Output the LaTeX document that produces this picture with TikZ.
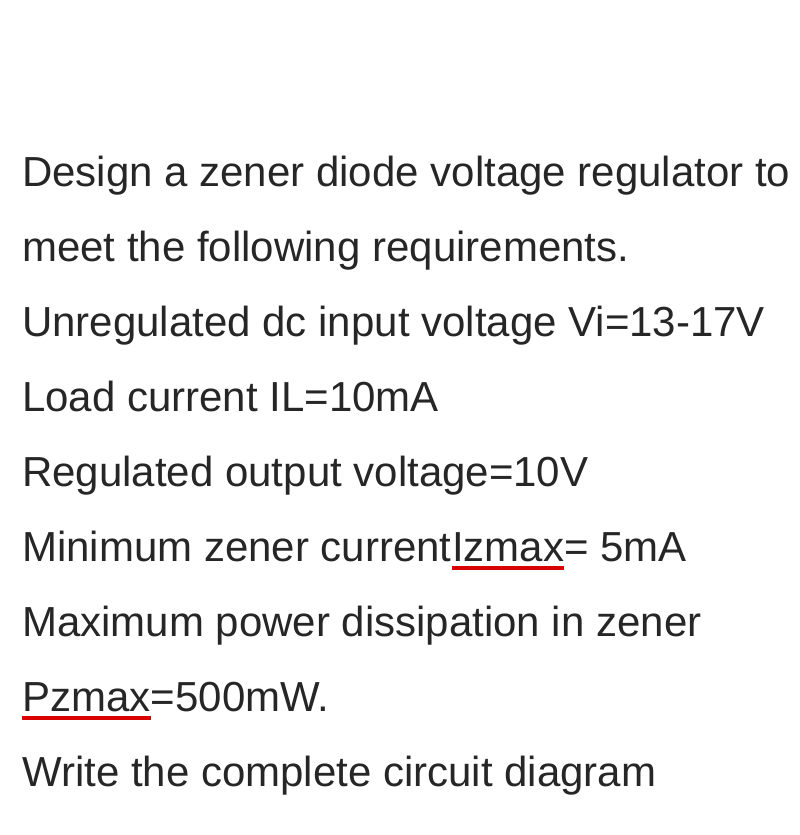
\documentclass[tikz,border=0pt]{standalone}
\usepackage{fontspec}
\setmainfont{Liberation Sans}
\begin{document}
\begin{tikzpicture}[x=1pt,y=1pt,
  txt/.style={anchor=base west,inner sep=0pt,font=\fontsize{42}{46}\selectfont,text=black!85},
  spell/.style={draw=red!85!black,line width=3.5pt}]
\useasboundingbox (0,0) rectangle (800,835);
\node[txt] (l1) at (22,835-187) {Design a zener diode voltage regulator to};
\node[txt] (l2) at (22,835-262) {meet the following requirements.};
\node[txt] (l3) at (22,835-337) {Unregulated dc input voltage Vi=13-17V};
\node[txt] (l4) at (22,835-412) {Load current IL=10mA};
\node[txt] (l5) at (22,835-487) {Regulated output voltage=10V};
\node[txt] (l6a) at (22,835-562) {Minimum zener current\ };
\node[txt] (l6b) at (l6a.base east) {Izmax};
\node[txt] (l6c) at (l6b.base east) {= 5mA};
\node[txt] (l7) at (22,835-637) {Maximum power dissipation in zener};
\node[txt] (l8a) at (22,835-712) {Pzmax};
\node[txt] (l8b) at (l8a.base east) {=500mW.};
\node[txt] (l9) at (22,835-787) {Write the complete circuit diagram};
\draw[spell] ([yshift=-6pt]l6b.base west) -- ([yshift=-6pt]l6b.base east);
\draw[spell] ([yshift=-6pt]l8a.base west) -- ([yshift=-6pt]l8a.base east);
\end{tikzpicture}
\end{document}
